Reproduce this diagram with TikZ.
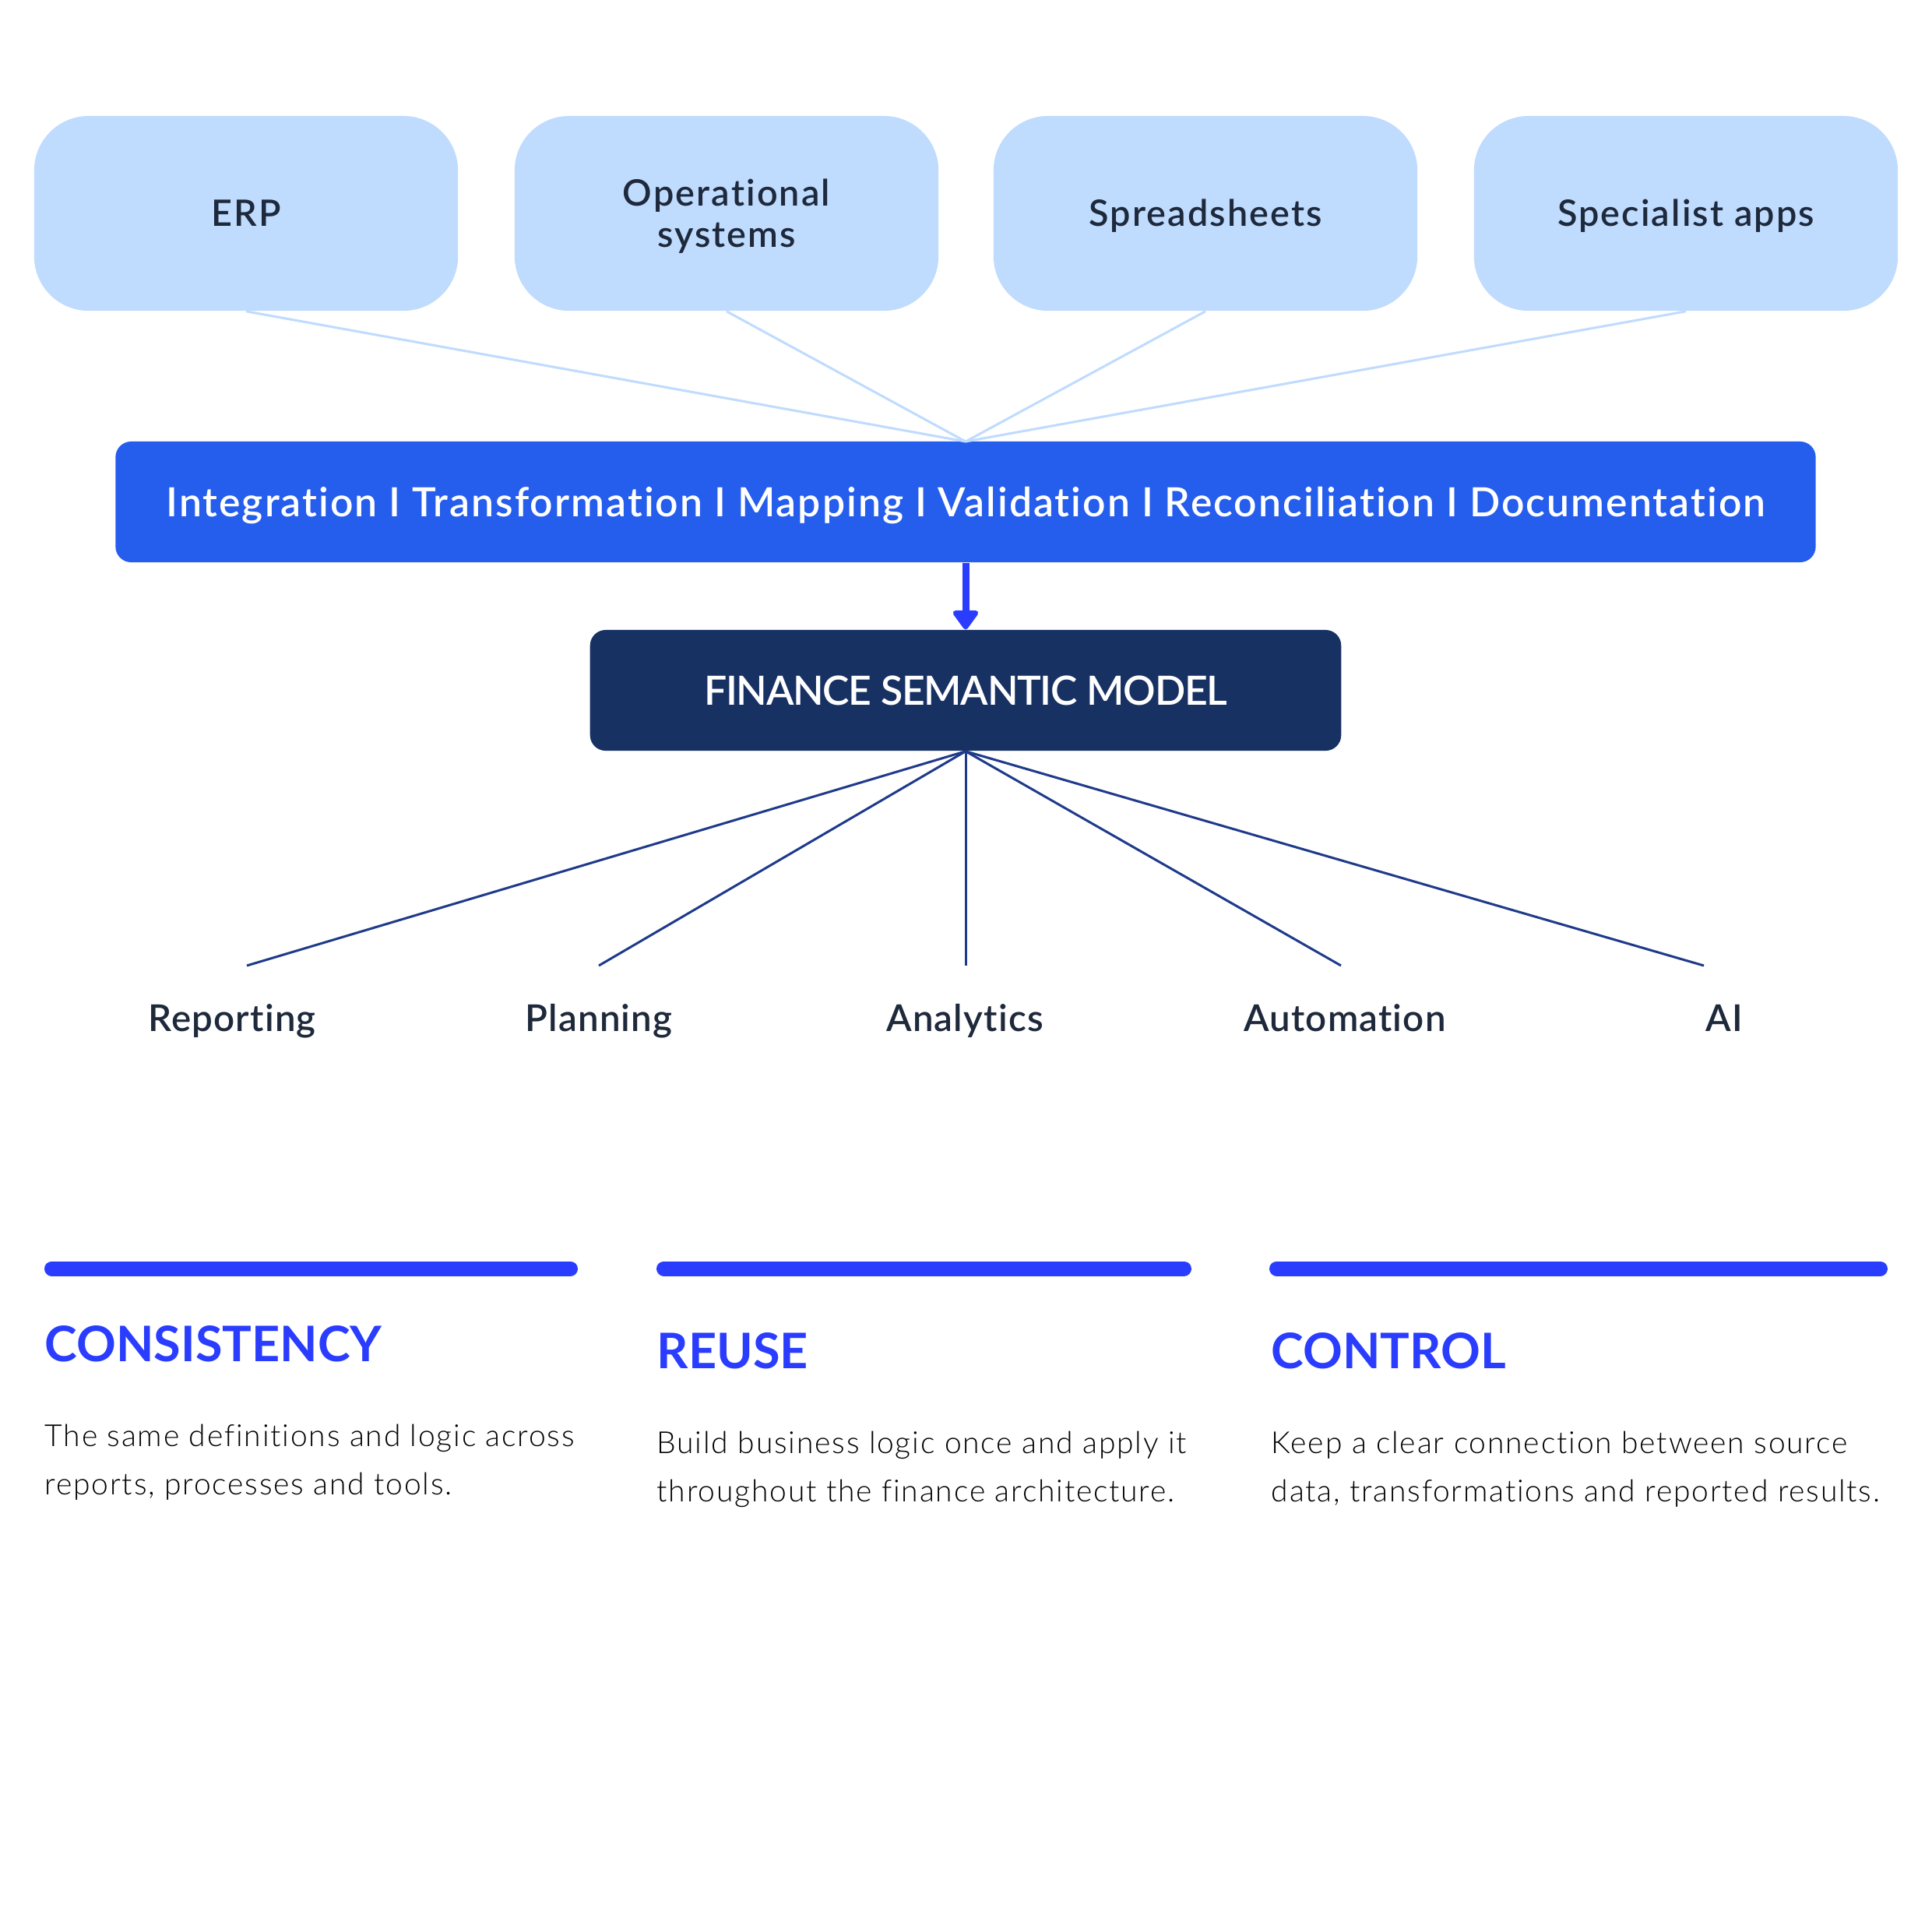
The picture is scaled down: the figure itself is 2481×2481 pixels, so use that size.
\documentclass[tikz,border=0pt]{standalone}
\usepackage{fontspec}
\setmainfont{Lato}[Ligatures=NoCommon]
\newfontfamily\semifont{Lato Semibold}[Ligatures=NoCommon]
\newfontfamily\lightfont{Lato Light}[Ligatures=NoCommon]
\usetikzlibrary{arrows.meta}
\definecolor{srcfill}{HTML}{BFDBFE}
\definecolor{srcline}{HTML}{BFDBFE}
\definecolor{darktext}{HTML}{1E293B}
\definecolor{barblue}{HTML}{255DEC}
\definecolor{navybox}{HTML}{183163}
\definecolor{navyline}{HTML}{1E3A8A}
\definecolor{bright}{HTML}{2A3DFF}
\definecolor{bodytext}{HTML}{000000}
\begin{document}
\begin{tikzpicture}[x=0.01cm,y=-0.01cm,
  srcbox/.style={fill=srcfill, draw=none, rounded corners=0.7cm, minimum width=5.44cm, minimum height=2.5cm,
    inner sep=0pt, align=center, text=darktext,
    font=\fontsize{13.3pt}{15pt}\semifont\addfontfeatures{LetterSpace=4.5},
    text height=11pt, text depth=1.47pt},
  srcbox2/.style={srcbox, text height=26pt, text depth=1.47pt},
  procbar/.style={fill=barblue, draw=none, rounded corners=0.2cm, minimum width=21.82cm, minimum height=1.55cm,
    inner sep=0pt, text=white, font=\fontsize{14.7pt}{17pt}\semifont\addfontfeatures{LetterSpace=3.9},
    text height=12pt, text depth=1.47pt},
  modelbox/.style={fill=navybox, draw=none, rounded corners=0.2cm, minimum width=9.64cm, minimum height=1.55cm,
    inner sep=0pt, text=white, font=\fontsize{14.7pt}{17pt}\semifont\addfontfeatures{LetterSpace=-2.5},
    text height=12pt, text depth=1.47pt},
  srclink/.style={draw=srcline, line width=0.03cm},
  uselink/.style={draw=navyline, line width=0.03cm},
  uselabel/.style={anchor=base, inner sep=0pt, text=darktext,
    font=\fontsize{13.5pt}{16pt}\semifont\addfontfeatures{LetterSpace=2.5}},
  accent/.style={draw=bright, line width=0.19cm, line cap=round},
  heading/.style={anchor=base west, inner sep=0pt, text=bright, font=\fontsize{17.9pt}{21pt}\selectfont\bfseries},
  bodypara/.style={anchor=base west, inner sep=0pt, align=left, text=bodytext,
    font=\fontsize{11.1pt}{17.6pt}\lightfont\addfontfeatures{LetterSpace=4.6}}
]
\useasboundingbox[fill=white] (0,0) rectangle (2481,2481);

% source boxes
\node[srcbox] (erp) at (316,274) {ERP};
\node[srcbox2] (ops) at (933,274) {Operational\\systems};
\node[srcbox] (sheets) at (1548,274) {Spreadsheets};
\node[srcbox] (apps) at (2165,274) {Specialist apps};

% process bar
\node[procbar] (proc) at (1240,644.5) {Integration I Transformation I Mapping I Validation I Reconciliation I Documentation};
\coordinate (conv) at (1240,567);

\foreach \s in {erp,ops,sheets,apps} \draw[srclink] (\s.south) -- (conv);

% model
\node[modelbox] (model) at (1240,886.5) {FINANCE SEMANTIC MODEL};
\draw[draw=bright, line width=0.09cm, -{Triangle[round, width=0.37cm, length=0.27cm]}] (proc.south) -- (model.north);

% uses
\coordinate (e1) at (317,1240);
\coordinate (e2) at (769,1240);
\coordinate (e3) at (1240,1240);
\coordinate (e4) at (1722,1240);
\coordinate (e5) at (2188,1240);
\foreach \e in {e1,e2,e3,e4,e5} \draw[uselink] (model.south) -- (\e);

\node[uselabel] (rep) at (298,1324) {Reporting};
\node[uselabel] (plan) at (769,1324) {Planning};
\node[uselabel] (ana) at (1239,1324) {Analytics};
\node[uselabel] (auto) at (1727,1324) {Automation};
\node[uselabel] (ai) at (2214,1324) {AI};

% principles
\draw[accent] (66.5,1629) -- (732.5,1629);
\draw[accent] (852.5,1629) -- (1520.5,1629);
\draw[accent] (1639.5,1629) -- (2414.5,1629);

\node[heading] (h1) at (57,1748) {CONSISTENCY};
\node[heading] (h2) at (843,1757) {REUSE};
\node[heading] (h3) at (1632,1757) {CONTROL};

\node[bodypara] (b1) at (57,1919) {The same definitions and logic across\\reports, processes and tools.};
\node[bodypara] (b2) at (843,1928) {Build business logic once and apply it\\throughout the finance architecture.};
\node[bodypara] (b3) at (1632,1928) {Keep a clear connection between source\\data, transformations and reported results.};
\end{tikzpicture}
\end{document}
